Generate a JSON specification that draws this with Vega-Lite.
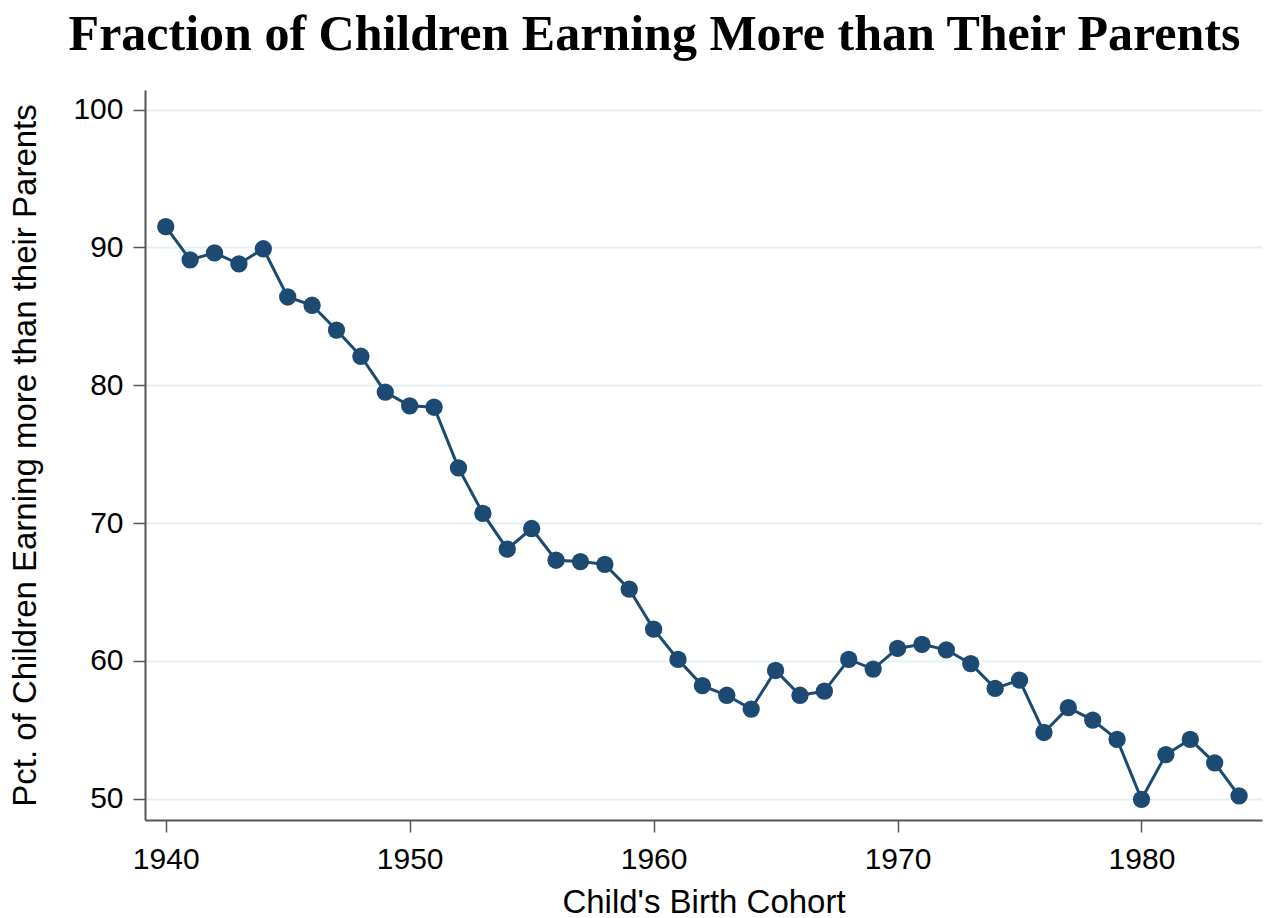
{
  "$schema": "https://vega.github.io/schema/vega-lite/v6.json",
  "autosize": {"type": "none"},
  "padding": {"left": 145, "top": 90, "right": 2, "bottom": 98},
  "width": 1117,
  "height": 730,
  "background": "white",
  "title": {
    "text": "Fraction of Children Earning More than Their Parents",
    "font": "Liberation Serif",
    "fontWeight": "bold",
    "fontSize": 50,
    "color": "black",
    "anchor": "middle",
    "frame": "group",
    "dx": -49,
    "dy": 22,
    "baseline": "alphabetic",
    "offset": 12
  },
  "config": {
    "view": {"stroke": null},
    "axis": {
      "labelFont": "Liberation Sans",
      "titleFont": "Liberation Sans",
      "labelColor": "black",
      "titleColor": "black",
      "titleFontWeight": "normal",
      "domainColor": "#555555",
      "domainWidth": 2,
      "tickColor": "#555555",
      "tickWidth": 1.5,
      "tickSize": 12
    }
  },
  "data": {
    "values": [
      {"year": 1940, "pct": 91.5},
      {"year": 1941, "pct": 89.1},
      {"year": 1942, "pct": 89.6},
      {"year": 1943, "pct": 88.8},
      {"year": 1944, "pct": 89.9},
      {"year": 1945, "pct": 86.4},
      {"year": 1946, "pct": 85.8},
      {"year": 1947, "pct": 84.0},
      {"year": 1948, "pct": 82.1},
      {"year": 1949, "pct": 79.5},
      {"year": 1950, "pct": 78.5},
      {"year": 1951, "pct": 78.4},
      {"year": 1952, "pct": 74.0},
      {"year": 1953, "pct": 70.7},
      {"year": 1954, "pct": 68.1},
      {"year": 1955, "pct": 69.6},
      {"year": 1956, "pct": 67.3},
      {"year": 1957, "pct": 67.2},
      {"year": 1958, "pct": 67.0},
      {"year": 1959, "pct": 65.2},
      {"year": 1960, "pct": 62.3},
      {"year": 1961, "pct": 60.1},
      {"year": 1962, "pct": 58.2},
      {"year": 1963, "pct": 57.5},
      {"year": 1964, "pct": 56.5},
      {"year": 1965, "pct": 59.3},
      {"year": 1966, "pct": 57.5},
      {"year": 1967, "pct": 57.8},
      {"year": 1968, "pct": 60.1},
      {"year": 1969, "pct": 59.4},
      {"year": 1970, "pct": 60.9},
      {"year": 1971, "pct": 61.2},
      {"year": 1972, "pct": 60.8},
      {"year": 1973, "pct": 59.8},
      {"year": 1974, "pct": 58.0},
      {"year": 1975, "pct": 58.6},
      {"year": 1976, "pct": 54.8},
      {"year": 1977, "pct": 56.6},
      {"year": 1978, "pct": 55.7},
      {"year": 1979, "pct": 54.3},
      {"year": 1980, "pct": 49.95},
      {"year": 1981, "pct": 53.2},
      {"year": 1982, "pct": 54.3},
      {"year": 1983, "pct": 52.6},
      {"year": 1984, "pct": 50.2}
    ]
  },
  "encoding": {
    "x": {
      "field": "year",
      "type": "quantitative",
      "scale": {"domain": [1939.15, 1984.94], "nice": false, "zero": false},
      "axis": {
        "title": "Child's Birth Cohort",
        "values": [1940, 1950, 1960, 1970, 1980],
        "format": "d",
        "grid": false,
        "labelFontSize": 30,
        "labelPadding": 12,
        "titleFontSize": 33,
        "titlePadding": 12
      }
    },
    "y": {
      "field": "pct",
      "type": "quantitative",
      "scale": {"domain": [48.45, 101.42], "nice": false, "zero": false},
      "axis": {
        "title": "Pct. of Children Earning more than their Parents",
        "values": [50, 60, 70, 80, 90, 100],
        "grid": true,
        "gridColor": "#e6eff2",
        "gridWidth": 2,
        "labelFontSize": 30,
        "labelPadding": 10,
        "titleFontSize": 33,
        "titlePadding": 30
      }
    }
  },
  "layer": [
    {"mark": {"type": "line", "color": "#1c4a72", "strokeWidth": 3}},
    {"mark": {"type": "point", "filled": true, "shape": "circle", "color": "#1c4a72", "opacity": 1, "size": 300}}
  ]
}
